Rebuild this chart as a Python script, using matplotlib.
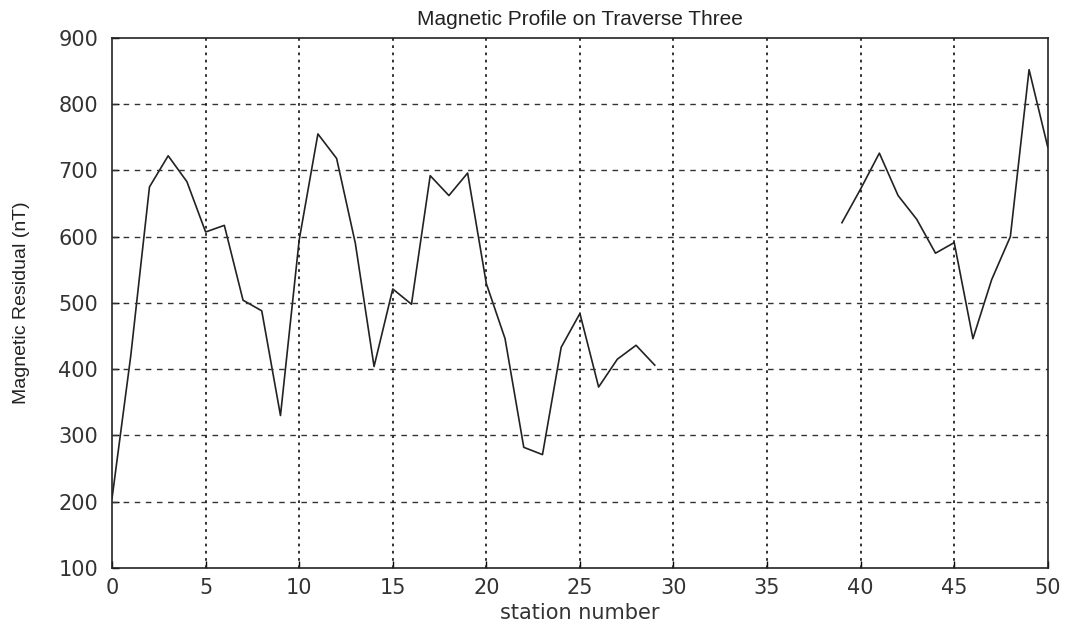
import numpy as np
import matplotlib
matplotlib.use("Agg")
import matplotlib.pyplot as plt

# station numbers and magnetic residuals (nT); stations 30-38 have no readings
stations = list(range(0, 51))
residual = [205, 420, 675, 722, 683, 607, 617, 504, 488, 330,
            595, 755, 718, 590, 404, 521, 498, 692, 662, 696,
            529, 446, 282, 271, 433, 484, 373, 415, 436, 406,
            None, None, None, None, None, None, None, None, None,
            621, 672, 726, 662, 626, 575, 591, 446, 535, 600,
            852, 735]

x_ticks = [0, 5, 10, 15, 20, 25, 30, 35, 40, 45, 50]
y_ticks = [100, 200, 300, 400, 500, 600, 700, 800, 900]

title = "Magnetic Profile on Traverse Three"
x_label = "station number"
y_label = "Magnetic Residual (nT)"

narrow = ["Liberation Sans Narrow", "Liberation Sans", "DejaVu Sans"]

fig = plt.figure(figsize=(10.67, 6.31), dpi=100)
ax = fig.add_axes([0.105, 0.1, 0.877, 0.84])

y = np.array([np.nan if v is None else v for v in residual], dtype=float)
ax.plot(stations, y, color="#222222", linewidth=1.2)

ax.set_xlim(0, 50)
ax.set_ylim(100, 900)
ax.set_xticks(x_ticks)
ax.set_yticks(y_ticks)
ax.tick_params(direction="in", length=5, labelsize=15, width=1,
               labelcolor="#333333")
ax.tick_params(axis="y", pad=10)
ax.tick_params(axis="x", pad=7)
for lbl in ax.get_xticklabels() + ax.get_yticklabels():
    lbl.set_family("DejaVu Sans")

for t in y_ticks[1:-1]:
    ax.axhline(t, color="#333333", linewidth=1.0, linestyle=(0, (4, 4)))
for t in x_ticks[1:-1]:
    ax.axvline(t, color="#222222", linewidth=1.3, linestyle=(0, (1.5, 2.5)))

for s in ax.spines.values():
    s.set_linewidth(1.2)
    s.set_color("#222222")

ax.set_title(title, fontsize=15, family=narrow, pad=9, color="#222222")
ax.set_xlabel(x_label, fontsize=15, family="DejaVu Sans", labelpad=4,
              color="#333333")
ax.set_ylabel(y_label, fontsize=14, family=narrow, labelpad=20,
              color="#222222")

fig.savefig("out.png", dpi=100)
